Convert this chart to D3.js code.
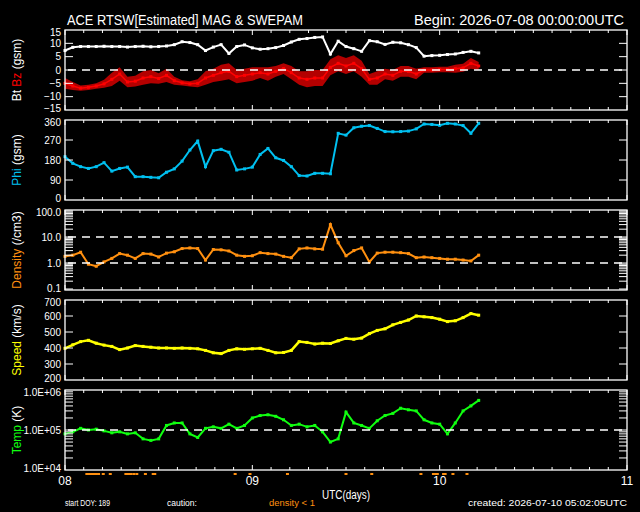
<!DOCTYPE html>
<html>
<head>
<meta charset="utf-8">
<script src="https://cdn.jsdelivr.net/npm/d3@7"></script>
<style>
body{margin:0;background:#000;}
svg{display:block;background:#000;}
text{font-family:"Liberation Sans",Arial,sans-serif;fill:#fff;}
</style>
</head>
<body>
<svg id="chart"></svg>
<script>

// hours since 2026-07-08 00:00 UTC (hourly)
var hours = [0,1,2,3,4,5,6,7,8,9,10,11,12,13,14,15,16,17,18,19,20,21,22,23,24,25,26,
             27,28,29,30,31,32,33,34,35,36,37,38,39,40,41,42,43,44,45,46,47,48,49,50,51,52,53];

var bt = [7.3,8.5,8.8,8.8,8.8,8.9,8.8,8.8,8.6,8.8,8.9,8.7,8.8,9.0,9.5,10.6,10.3,9.5,7.3,8.6,9.5,6.2,8.8,9.4,8.3,7.8,8.0,
          8.4,9.2,10.5,11.5,11.8,12.2,12.4,6.0,10.8,8.8,8.0,7.0,11.0,10.6,9.6,10.4,10.2,9.5,8.4,5.2,5.4,5.5,5.8,6.0,6.6,7.0,6.4];

var bz = [-5.0,-6.0,-6.8,-6.5,-6.0,-5.2,-3.5,-1.5,-4.5,-4.2,-3.0,-2.5,-3.2,-2.0,-4.0,-4.8,-5.2,-5.0,-3.0,-2.0,-1.0,-0.5,-2.5,-2.0,-1.5,-1.0,-1.5,
          -0.5,0.5,-1.0,-3.0,-3.5,-3.0,-3.0,1.0,2.5,1.5,2.5,0.5,-3.5,-3.0,-1.5,-2.0,-0.5,-0.5,-1.5,0.0,0.0,0.2,0.2,0.5,0.8,2.5,1.5];

var bzSpread = [2,1.5,1,1,1,1.5,2.5,2.5,2,2,2.5,2.5,2,2.5,1.5,1,1,1.5,2.5,2.5,3,3,2.5,2.5,2.5,2,2.5,
                2,2,2.5,2.5,3,3,3,3,3,3,3,3,2,2.5,2,2,2,2,2,1,1,1,1,1.5,1.5,2,1.5];

var phi = [195,165,150,142,150,168,130,142,148,105,105,102,100,125,140,175,225,265,150,222,228,215,135,140,148,205,232,
           190,178,150,110,108,120,120,118,300,292,325,332,335,322,308,307,308,310,320,342,340,336,345,342,335,300,345];

var density = [1.8,2.0,2.6,0.9,0.75,1.1,1.5,2.3,2.0,1.5,2.3,2.2,1.7,2.4,2.7,3.6,3.8,3.6,1.3,3.3,3.2,2.9,2.0,1.8,1.9,2.5,2.3,
               2.2,1.8,1.6,3.5,3.8,3.5,3.4,30,6.0,1.9,3.0,3.8,1.1,2.4,2.6,2.6,2.5,2.3,1.6,1.7,1.6,1.5,1.4,1.4,1.3,1.2,2.0];

var speed = [398,420,440,448,430,418,410,390,400,415,410,405,400,400,398,400,398,395,385,370,365,385,395,392,395,398,385,
             370,372,385,440,435,425,430,428,445,460,455,462,490,510,520,545,560,575,600,595,590,580,565,570,590,615,605];

var temp = [80000,90000,110000,100000,105000,95000,85000,90000,80000,85000,60000,55000,60000,130000,150000,150000,80000,65000,
            110000,120000,110000,140000,110000,130000,200000,230000,240000,220000,180000,130000,140000,120000,130000,90000,
            50000,60000,280000,150000,130000,110000,170000,230000,260000,350000,320000,300000,180000,150000,140000,80000,
            150000,300000,400000,550000];

// hours flagged "density < 1" (orange marks under the bottom axis)
var cautionHours = [2.8,3.0,3.2,3.4,3.6,3.8,4.0,4.3,4.9,5.8,7.8,8.0,8.2,8.4,8.8,9.2,10.3,11.3,11.5,
                    21.8,23.7,28.5,36.0,39.3,45.6,47.2,47.5,47.7,48.5,48.7,49.7,51.5];

var btTicks = [15,10,5,0,-5,-10,-15];
var phiTicks = [360,270,180,90,0];
var densityTicks = [100,10,1,0.1];
var speedTicks = [700,600,500,400,300,200];
var tempTicks = [1e6,1e5,1e4];
var dayTicks = [8,9,10,11];
var dayLabels = ["08","09","10","11"];

var screen = {width:640, height:512};
var plot = {left:65, right:627};

var svg = d3.select("#chart")
    .attr("width",screen.width)
    .attr("height",screen.height);

var xScale = d3.scaleLinear()
    .domain([8,11])
    .range([plot.left,plot.right]);

var toDay = function(h) { return 8 + h/24; };

var tempLabel = function(v)
{
    var e = Math.round(Math.log10(v));
    return "1.0E+" + (e<10 ? "0" : "") + e;
};

var panels = [
    {top:30, bottom:110, scale:d3.scaleLinear().domain([-15,15]), ticks:btTicks,
     fmt:d3.format("d"), dashes:[0], log:false},
    {top:120, bottom:200, scale:d3.scaleLinear().domain([0,360]), ticks:phiTicks,
     fmt:d3.format("d"), dashes:[], log:false},
    {top:210, bottom:290, scale:d3.scaleLog().domain([0.1,100]), ticks:densityTicks,
     fmt:d3.format(".1f"), dashes:[10,1], log:true, pad:[211,289]},
    {top:300, bottom:380, scale:d3.scaleLinear().domain([200,700]), ticks:speedTicks,
     fmt:d3.format("d"), dashes:[], log:false},
    {top:390, bottom:470, scale:d3.scaleLog().domain([1e4,1e6]), ticks:tempTicks,
     fmt:tempLabel, dashes:[1e5], log:true}
];

panels.forEach(function(p)
{
    if (p.pad) { p.scale.range([p.pad[1],p.pad[0]]); }
    else { p.scale.range([p.bottom,p.top]); }
});

// ---------- data ----------
var drawSeries = function(p, values, color, width)
{
    var line = d3.line()
        .x(function(d,i) { return xScale(toDay(hours[i])); })
        .y(function(d) { return p.scale(d); });

    svg.append("path")
        .datum(values)
        .attr("d",line)
        .attr("fill","none")
        .attr("stroke",color)
        .attr("stroke-width",width);

    svg.append("g")
        .selectAll("rect")
        .data(values)
        .enter()
        .append("rect")
        .attr("x",function(d,i) { return xScale(toDay(hours[i]))-1.5; })
        .attr("y",function(d) { return p.scale(d)-1.5; })
        .attr("width",3)
        .attr("height",3)
        .attr("fill",color);
};

// Bz scatter band
var bzArea = d3.area()
    .x(function(d,i) { return xScale(toDay(hours[i])); })
    .y0(function(d,i) { return panels[0].scale(d - bzSpread[i]); })
    .y1(function(d,i) { return panels[0].scale(d + bzSpread[i]); });

svg.append("path")
    .datum(bz)
    .attr("d",bzArea)
    .attr("fill","#ff0000")
    .attr("opacity",0.7);

drawSeries(panels[0], bz, "#ff0000", 1.5);
drawSeries(panels[0], bt, "#ffffff", 2);
drawSeries(panels[1], phi, "#00c0f0", 2);
drawSeries(panels[2], density, "#ff9010", 2);
drawSeries(panels[3], speed, "#ffff00", 2.5);
drawSeries(panels[4], temp, "#10ff10", 2);

// caution marks
svg.append("g")
    .selectAll("rect")
    .data(cautionHours)
    .enter()
    .append("rect")
    .attr("x",function(d) { return xScale(toDay(d))-1.5; })
    .attr("y",473)
    .attr("width",3)
    .attr("height",2)
    .attr("fill","#ff9010");

// ---------- frames, ticks, labels ----------
var xMinor = xScale.ticks(36);

panels.forEach(function(p)
{
    var g = svg.append("g");

    // dashed reference lines
    p.dashes.forEach(function(v)
    {
        g.append("line")
            .attr("x1",plot.left+3).attr("x2",plot.right-3)
            .attr("y1",p.scale(v)).attr("y2",p.scale(v))
            .attr("stroke","#fff")
            .attr("stroke-width",1.3)
            .attr("stroke-dasharray","8,6");
    });

    g.append("rect")
        .attr("x",plot.left).attr("y",p.top)
        .attr("width",plot.right-plot.left)
        .attr("height",p.bottom-p.top)
        .attr("fill","none")
        .attr("stroke","#fff")
        .attr("stroke-width",1.3);

    // x ticks top and bottom
    xMinor.forEach(function(t)
    {
        var len = (Math.abs(t-Math.round(t))<1e-6) ? 5 : 3;
        g.append("line")
            .attr("x1",xScale(t)).attr("x2",xScale(t))
            .attr("y1",p.bottom).attr("y2",p.bottom-len)
            .attr("stroke","#fff");
        g.append("line")
            .attr("x1",xScale(t)).attr("x2",xScale(t))
            .attr("y1",p.top).attr("y2",p.top+len)
            .attr("stroke","#fff");
    });

    // y ticks (majors plus log minors), both sides
    var yt = p.log ? p.scale.ticks() : p.ticks;
    yt.forEach(function(v)
    {
        var y = p.scale(v);
        if (y < p.top+0.5 || y > p.bottom-0.5) return;
        g.append("line")
            .attr("x1",plot.left).attr("x2",plot.left+8)
            .attr("y1",y).attr("y2",y)
            .attr("stroke","#fff");
        g.append("line")
            .attr("x1",plot.right).attr("x2",plot.right-8)
            .attr("y1",y).attr("y2",y)
            .attr("stroke","#fff");
    });

    g.selectAll("text.ylab")
        .data(p.ticks)
        .enter()
        .append("text")
        .attr("class","ylab")
        .attr("x",61)
        .attr("y",function(v) { return Math.max(p.top+2, Math.min(p.bottom-2, p.scale(v))); })
        .attr("dy","0.36em")
        .attr("text-anchor","end")
        .attr("font-size",10)
        .text(function(v) { return p.fmt(v); });
});

// y axis titles
var yTitles = [
    [["Bt ","#fff"],["Bz","#ff0000"],[" (gsm)","#fff"]],
    [["Phi","#00c0f0"],[" (gsm)","#fff"]],
    [["Density","#ff9010"],[" (/cm3)","#fff"]],
    [["Speed","#ffff00"],[" (km/s)","#fff"]],
    [["Temp","#10ff10"],[" (K)","#fff"]]
];

yTitles.forEach(function(parts,i)
{
    var p = panels[i];
    var cy = (p.top+p.bottom)/2;
    var t = svg.append("text")
        .attr("transform","translate(21,"+cy+") rotate(-90)")
        .attr("text-anchor","middle")
        .attr("font-size",12);
    parts.forEach(function(s)
    {
        t.append("tspan").text(s[0]).style("fill",s[1]);
    });
});

// day labels
svg.selectAll("text.day")
    .data(dayTicks)
    .enter()
    .append("text")
    .attr("x",function(d) { return xScale(d); })
    .attr("y",485)
    .attr("text-anchor","middle")
    .attr("font-size",12)
    .text(function(d,i) { return dayLabels[i]; });

var label = function(txt, x, y, size, len, color, anchor)
{
    svg.append("text")
        .attr("x",x).attr("y",y)
        .attr("font-size",size)
        .attr("text-anchor",anchor || "start")
        .attr("textLength",len)
        .attr("lengthAdjust","spacingAndGlyphs")
        .style("fill",color || "#fff")
        .text(txt);
};

label("ACE RTSW[Estimated] MAG & SWEPAM", 67, 25, 14, 236);
label("Begin: 2026-07-08 00:00:00UTC", 414, 25, 14, 210);
label("UTC(days)", 322, 499, 12, 48);
label("start DOY: 189", 65, 506, 8.5, 45);
label("caution:", 167, 506, 8.5, 30);
label("density < 1", 269, 506, 8.5, 46, "#ff9010");
label("created: 2026-07-10 05:02:05UTC", 468, 506, 8.5, 159);

</script>
</body>
</html>
